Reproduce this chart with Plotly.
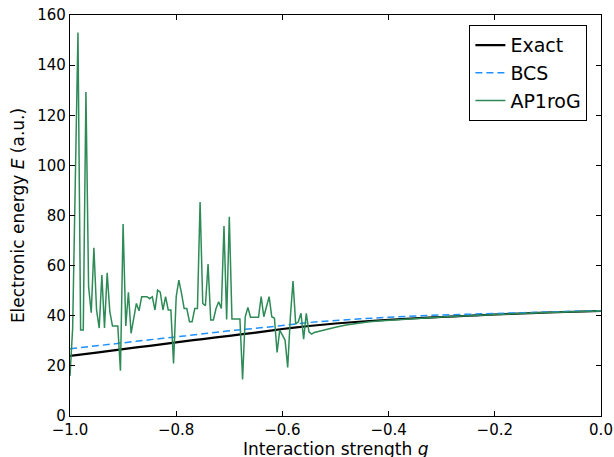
import numpy as np
import plotly.graph_objects as go

# ---- data ----
g_curve = [-1.00, -0.95, -0.90, -0.85, -0.80, -0.75, -0.70, -0.65, -0.60, -0.55,
           -0.50, -0.45, -0.40, -0.35, -0.30, -0.25, -0.20, -0.15, -0.10, -0.05, 0.00]
exact_e = [24.0, 25.3, 26.7, 28.0, 29.4, 30.7, 32.0, 33.3, 34.7, 35.9,
           36.9, 37.7, 38.4, 39.0, 39.5, 40.0, 40.5, 40.9, 41.3, 41.6, 41.9]
bcs_e = [26.8, 28.0, 29.2, 30.4, 31.6, 32.8, 34.0, 35.0, 36.1, 37.3,
         38.1, 38.8, 39.4, 39.9, 40.3, 40.6, 40.9, 41.2, 41.5, 41.8, 42.0]

# AP1roG: noisy region on a 0.005 grid from g = -1.0 to -0.545
ap_noisy_e = [16.0, 35.0, 94.0, 153.0, 34.3, 34.3, 129.3, 51.6, 41.2, 67.1,
              42.3, 35.1, 56.2, 35.1, 57.1, 41.6, 35.9, 35.9, 35.9, 18.1,
              76.6, 35.9, 49.4, 33.0, 39.0, 44.9, 42.0, 47.6, 47.6, 47.6,
              46.8, 47.6, 42.3, 50.2, 49.4, 42.3, 47.6, 42.3, 42.3, 21.0,
              47.6, 54.2, 48.9, 42.9, 42.9, 37.6, 37.6, 42.9, 42.9, 85.4,
              44.9, 44.0, 60.6, 38.3, 38.3, 42.9, 45.6, 42.9, 75.8, 38.5,
              79.5, 38.7, 38.7, 38.7, 38.7, 14.6, 39.6, 43.3, 39.4, 39.4,
              39.4, 39.4, 47.6, 39.6, 43.6, 47.6, 39.6, 39.0, 25.4, 34.3,
              32.3, 30.3, 19.4, 39.6, 53.8, 36.7, 37.6, 41.0, 30.7, 41.0,
              33.6, 32.7]
ap_noisy_g = list(np.round(-1.0 + 0.005 * np.arange(len(ap_noisy_e)), 3))
# AP1roG: smooth region
ap_smooth_g = [-0.54, -0.53, -0.52, -0.51, -0.50, -0.48, -0.46, -0.44, -0.42, -0.40,
               -0.35, -0.30, -0.25, -0.20, -0.15, -0.10, -0.05, 0.00]
ap_smooth_e = [33.3, 33.9, 34.4, 34.9, 35.4, 36.3, 37.0, 37.5, 37.9, 38.2,
               38.9, 39.5, 40.0, 40.5, 40.9, 41.3, 41.6, 41.9]
ap_g = ap_noisy_g + ap_smooth_g
ap_e = ap_noisy_e + ap_smooth_e

x_ticks = [-1.0, -0.8, -0.6, -0.4, -0.2, 0.0]
y_ticks = [0, 20, 40, 60, 80, 100, 120, 140, 160]

FONT = "DejaVu Sans"

fig = go.Figure()
fig.add_trace(go.Scatter(x=g_curve, y=exact_e, mode="lines", name="Exact",
                         line=dict(color="black", width=2.2, shape="spline")))
fig.add_trace(go.Scatter(x=g_curve, y=bcs_e, mode="lines", name="BCS",
                         line=dict(color="#1E90FF", width=1.5, dash="7px,4px", shape="spline")))
fig.add_trace(go.Scatter(x=ap_g, y=ap_e, mode="lines", name="AP1roG",
                         line=dict(color="#2E8B57", width=1.5)))

axis_common = dict(showline=True, linecolor="black", linewidth=1.2, mirror="ticks",
                   ticks="inside", ticklen=5, tickcolor="black", tickwidth=1,
                   showgrid=False, zeroline=False, ticklabeloverflow="allow",
                   tickfont=dict(family=FONT, size=15, color="black"))

fig.update_layout(
    width=614, height=457,
    margin=dict(l=70, r=13, t=15, b=41),
    paper_bgcolor="white", plot_bgcolor="white",
    font=dict(family=FONT, size=15, color="black"),
    xaxis=dict(range=[-1.0, 0.0], tickvals=x_ticks, tickformat=".1f",
               automargin=False, **axis_common),
    yaxis=dict(range=[0, 160], tickvals=y_ticks,
               title=dict(text="Electronic energy <i>E</i> (a.u.)", standoff=8,
                          font=dict(family=FONT, size=17)),
               automargin=False, **axis_common),
    legend=dict(x=0.974, y=0.975, xanchor="right", yanchor="top",
                bgcolor="white", bordercolor="black", borderwidth=1.2,
                font=dict(family=FONT, size=19, color="black")),
    showlegend=True,
    annotations=[dict(text="Interaction strength <i>g</i>", xref="paper", yref="paper",
                      x=0.5, y=-0.082, xanchor="center", yanchor="middle",
                      showarrow=False, font=dict(family=FONT, size=17, color="black"))],
)

fig.write_html(
    "out.html",
    config={"displayModeBar": False},
    post_script="document.body.style.margin='0';document.body.style.overflow='hidden';",
)
